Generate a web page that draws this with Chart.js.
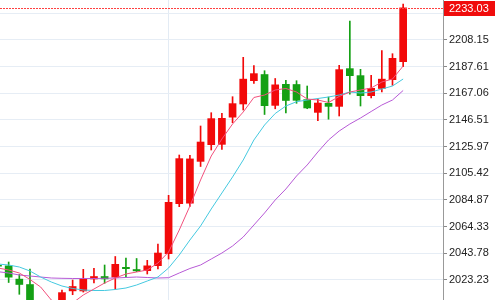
<!DOCTYPE html>
<html>
<head>
<meta charset="utf-8">
<script src="https://cdn.jsdelivr.net/npm/chart.js@4.4.1/dist/chart.umd.min.js"></script>
<style>
  html, body { margin: 0; padding: 0; background: #fff; }
  #wrap { width: 500px; height: 300px; position: relative; }
</style>
</head>
<body>
<div id="wrap"><canvas id="kline"></canvas></div>
<script>
// candle values, oldest first (the first few sit partly below the visible range)
const opens = [2034.75, 2034.37, 2024.13, 2019.97, 1999.0, 1991.0, 2003.18, 2014.58, 2014.50, 2023.74,
  2026.13, 2025.13, 2033.21, 2031.52, 2030.13, 2033.98, 2043.22, 2081.73, 2082.10, 2114.30,
  2127.16, 2127.40, 2148.34, 2158.50, 2176.44, 2181.68, 2157.42, 2174.13, 2174.00, 2162.35,
  2152.03, 2159.50, 2156.65, 2186.22, 2180.83, 2164.89, 2170.44, 2177.21, 2191.07];
const highs = [2037.06, 2037.06, 2027.44, 2031.67, 2002.5, 1999.0, 2015.50, 2023.20, 2031.44, 2032.21,
  2034.75, 2041.30, 2040.14, 2039.76, 2038.37, 2050.92, 2088.42, 2119.46, 2119.30, 2141.79,
  2152.03, 2151.57, 2164.35, 2194.69, 2188.38, 2184.37, 2178.37, 2176.98, 2176.67, 2172.59,
  2162.81, 2164.12, 2188.53, 2222.65, 2185.45, 2180.83, 2199.78, 2197.47, 2235.74];
const lows = [2032.44, 2021.28, 2012.19, 1993.94, 1988.0, 1985.0, 2000.87, 2011.88, 2013.90, 2020.89,
  2020.66, 2016.12, 2025.13, 2029.59, 2027.82, 2031.67, 2039.37, 2079.65, 2079.90, 2110.60,
  2123.31, 2123.85, 2144.33, 2154.11, 2174.67, 2150.65, 2155.04, 2151.96, 2159.27, 2155.10,
  2145.87, 2147.03, 2149.49, 2166.28, 2157.19, 2163.35, 2167.97, 2173.13, 2187.46];
const closes = [2033.60, 2025.13, 2019.50, 1998.56, 1991.5, 1996.0, 2013.73, 2018.43, 2024.13, 2026.13,
  2023.82, 2035.52, 2031.67, 2029.98, 2034.37, 2044.22, 2083.27, 2116.92, 2116.70, 2129.70,
  2147.72, 2147.95, 2159.27, 2178.14, 2182.37, 2157.19, 2173.75, 2161.20, 2161.30, 2155.42,
  2159.73, 2156.65, 2185.45, 2180.29, 2164.89, 2171.05, 2178.14, 2194.15, 2233.03];

// moving averages
const ma5 = [2032.44, 2030.90, 2028.59, 2023.59, 2017.81, 2007.80, 2000.10, 2005.49, 2011.65, 2016.27,
  2020.89, 2024.74, 2027.82, 2029.36, 2030.90, 2036.29, 2044.76, 2061.70, 2080.19, 2100.21,
  2118.69, 2131.78, 2143.33, 2152.57, 2163.74, 2165.66, 2169.51, 2170.67, 2167.97, 2162.58,
  2161.81, 2159.89, 2164.51, 2167.97, 2169.51, 2171.05, 2175.67, 2177.98, 2187.99];
const ma10 = [2035.52, 2034.75, 2033.21, 2030.13, 2025.51, 2021.66, 2018.58, 2016.66, 2015.50, 2015.12,
  2015.12, 2015.89, 2017.04, 2019.35, 2022.43, 2025.51, 2032.44, 2042.45, 2054.00, 2064.78,
  2077.88, 2090.20, 2102.52, 2115.61, 2131.01, 2142.56, 2151.42, 2157.19, 2160.50, 2161.81,
  2162.97, 2164.12, 2165.66, 2167.97, 2167.20, 2167.97, 2170.28, 2172.59, 2177.98];
const ma20 = [2029.59, 2028.59, 2027.05, 2026.28, 2025.51, 2024.74, 2024.51, 2024.36, 2024.36, 2024.36,
  2024.51, 2024.74, 2025.13, 2025.51, 2025.13, 2024.74, 2024.97, 2028.59, 2032.06, 2034.75,
  2039.37, 2043.99, 2049.38, 2056.31, 2065.55, 2074.80, 2084.81, 2093.28, 2103.29, 2111.76,
  2121.77, 2131.01, 2137.94, 2143.33, 2147.95, 2152.96, 2157.96, 2161.81, 2169.13];

const yTicks = [2023.23, 2043.78, 2064.33, 2084.87, 2105.42, 2125.97, 2146.51, 2167.06, 2187.61, 2208.15, 2228.70];
const sessionBreaks = [16]; // candle index where the vertical grid line sits

const UP = '#f20a0a';
const DOWN = '#14a014';

const candleColor = (ctx) => {
  const i = ctx.dataIndex;
  return closes[i] >= opens[i] ? UP : DOWN;
};

const wickData = closes.map((c, i) => ({ x: i, y: [lows[i], highs[i]] }));
const bodyData = closes.map((c, i) => ({ x: i, y: [opens[i], c] }));
const toLine = (arr) => arr.map((v, i) => ({ x: i, y: v }));

// dashed last-price line and the red price tag on the axis
const lastPrice = {
  id: 'lastPrice',
  afterDraw(chart) {
    const { ctx, chartArea, scales } = chart;
    const price = closes[closes.length - 1];
    const y = Math.round(scales.y.getPixelForValue(price)) + 0.5;
    ctx.save();
    ctx.strokeStyle = '#ff4040';
    ctx.lineWidth = 1;
    ctx.setLineDash([2, 1]);
    ctx.beginPath();
    ctx.moveTo(chartArea.left, y);
    ctx.lineTo(chartArea.right, y);
    ctx.stroke();
    ctx.setLineDash([]);
    ctx.fillStyle = '#f00c0c';
    ctx.fillRect(scales.y.left + 1, y - 7.5, 51, 15);
    ctx.fillStyle = '#fff';
    ctx.font = '11px "Liberation Sans", Arial, sans-serif';
    ctx.textBaseline = 'middle';
    ctx.fillText(price.toFixed(2), scales.y.left + 6, y + 0.5);
    ctx.restore();
  }
};

new Chart(document.getElementById('kline'), {
  type: 'bar',
  data: {
    datasets: [
      {
        type: 'line', label: 'MA5', data: toLine(ma5),
        borderColor: '#f2507c', borderWidth: 1, pointRadius: 0, tension: 0, order: 1
      },
      {
        type: 'line', label: 'MA10', data: toLine(ma10),
        borderColor: '#45c9e0', borderWidth: 1, pointRadius: 0, tension: 0, order: 1
      },
      {
        type: 'line', label: 'MA20', data: toLine(ma20),
        borderColor: '#b75ad6', borderWidth: 1, pointRadius: 0, tension: 0, order: 1
      },
      {
        label: 'wick', data: wickData, grouped: false,
        barThickness: 1, backgroundColor: candleColor, order: 3
      },
      {
        label: 'body', data: bodyData, grouped: false,
        categoryPercentage: 1, barPercentage: 0.72, minBarLength: 1,
        backgroundColor: candleColor, order: 2
      }
    ]
  },
  options: {
    responsive: true,
    maintainAspectRatio: false,
    animation: false,
    layout: { padding: 0, autoPadding: false },
    plugins: { legend: { display: false }, tooltip: { enabled: false } },
    scales: {
      x: {
        type: 'linear',
        min: 0.188,
        max: 41.737,
        offset: false,
        afterBuildTicks: (s) => { s.ticks = sessionBreaks.map(v => ({ value: v })); },
        ticks: { display: false },
        grid: { offset: false, drawTicks: false, color: '#e3ebf4' },
        border: { display: false }
      },
      y: {
        position: 'right',
        min: 2007.80,
        max: 2238.82,
        afterBuildTicks: (s) => { s.ticks = yTicks.map(v => ({ value: v })); },
        afterFit: (s) => {
          s.width = 57;
          // labels near the edges may be clipped, like the original
          s.paddingTop = 0;
          s.paddingBottom = 0;
        },
        ticks: {
          callback: (v) => Number(v).toFixed(2),
          color: '#222',
          padding: 2,
          font: { family: '"Liberation Sans", Arial, sans-serif', size: 11 }
        },
        grid: { color: '#e6edf5', tickColor: '#888', tickLength: 4 },
        border: { color: '#999' }
      }
    }
  },
  plugins: [lastPrice]
});
</script>
</body>
</html>
